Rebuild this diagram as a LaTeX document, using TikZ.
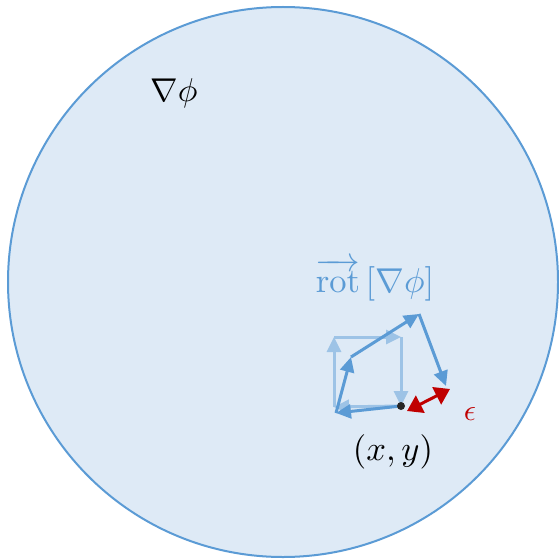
\documentclass[tikz,border=0pt]{standalone}
\usepackage{amsmath}
\usetikzlibrary{arrows.meta}
\definecolor{fillblue}{RGB}{222,234,246}
\definecolor{edgeblue}{RGB}{91,155,213}
\definecolor{lightblue}{RGB}{157,195,230}
\definecolor{darkred}{RGB}{192,0,0}
\tikzset{
  vec/.style={edgeblue, line width=3pt, -{Triangle[length=15pt,width=14pt]}},
  lvec/.style={lightblue, line width=3pt, -{Triangle[length=15pt,width=14pt]}},
  lbl/.style={inner sep=0pt, scale=3}
}
\begin{document}
\begin{tikzpicture}[x=1pt,y=-1pt]
\useasboundingbox (0,0) rectangle (559,559);
\draw[edgeblue, fill=fillblue, line width=2pt] (283,282) circle (275);
\node[lbl, scale=1.1] (grad) at (174,93) {$\nabla\phi$};
\node[lbl, text=edgeblue, scale=1.15] (rot) at (375,280) {$\overrightarrow{\mathrm{rot}}\,[\nabla\phi]$};
% light square
\coordinate (sbl) at (334,407);
\coordinate (stl) at (334,337);
\coordinate (str) at (401,337);
\coordinate (sbr) at (401,406);
\draw[lvec] (sbl) -- (stl);
\draw[lvec] (stl) -- (str);
\draw[lvec] (str) -- (sbr);
\draw[lvec] (sbr) -- (sbl);
% dark path
\coordinate (p0) at (401,406);
\coordinate (p1) at (336,413);
\coordinate (p2) at (351,357);
\coordinate (p3) at (419,314);
\coordinate (p4) at (446,386);
\draw[vec] (p0) -- (p1);
\draw[vec] (p1) -- (p2);
\draw[vec] (p2) -- (p3);
\draw[vec] (p3) -- (p4);
\fill[black!85] (p0) circle (4);
\coordinate (e0) at (407,411);
\coordinate (e1) at (450,389);
\draw[darkred, line width=3pt, {Triangle[length=15pt,width=19pt]}-{Triangle[length=15pt,width=19pt]}] (e0) -- (e1);
\node[lbl, text=darkred] (eps) at (470,414) {$\epsilon$};
\node[lbl, scale=1.15] (xy) at (393,452) {$(x,y)$};
\end{tikzpicture}
\end{document}
